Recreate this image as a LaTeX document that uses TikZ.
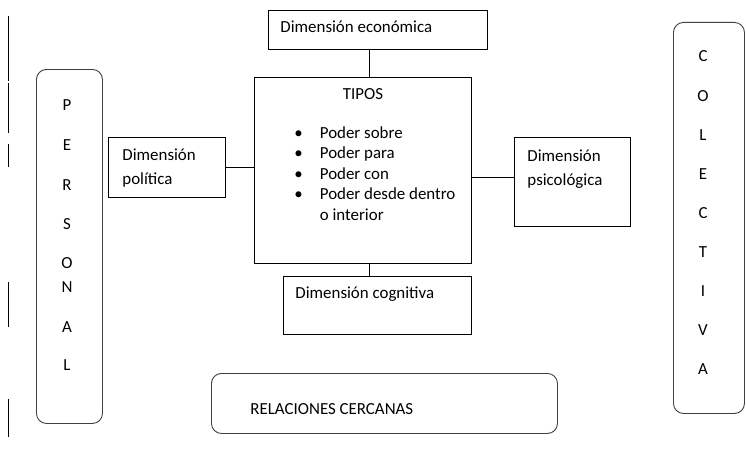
\documentclass[tikz,border=0pt]{standalone}
\usepackage{fontspec}
\setmainfont{Carlito}
\usetikzlibrary{positioning,calc}
\definecolor{fg}{RGB}{0,0,0}
\definecolor{rnd}{RGB}{64,64,64}
\tikzset{
  every picture/.style={fg, line width=0.9pt},
  every node/.style={font=\fontsize{16.9}{20.5}\selectfont, inner sep=0pt},
  % Kästen
  box/.style={draw, anchor=north west},
  rbox/.style={box, draw=rnd, rounded corners=10pt},
  % Beschriftung
  txt/.style={anchor=base west},
  wide/.style={txt, font=\fontsize{16.9}{24}\selectfont},
  letter/.style={anchor=base},
  link/.style={line width=0.8pt},
}

\begin{document}
\begin{tikzpicture}[x=1pt, y=-1pt]
  \useasboundingbox (0,0) rectangle (746,452);
  % Randstriche links
  \foreach \a/\b in {16/81, 83/133, 144/167, 282/327, 399/437}
    \draw[link] (8,\a) -- (8,\b);
  % Kästen
  \node[box, minimum width=219, minimum height=39] (econ) at (268,10) {};
  \node[box, minimum width=217, minimum height=186] (tipos) at (254,77) {};
  \node[box, minimum width=117, minimum height=60] (pol) at (108,137) {};
  \node[box, minimum width=116, minimum height=89] (psico) at (514,137) {};
  \node[box, minimum width=188, minimum height=58] (cogn) at (283,276) {};
  \node[rbox, minimum width=346, minimum height=60] (rel) at (211,373) {};
  \node[rbox, minimum width=66, minimum height=354] (pers) at (36,69) {};
  \node[rbox, minimum width=71, minimum height=391] (colec) at (673,22) {};
  % Texte
  \node[txt] at ([shift={(12,23)}]econ.north west) {Dimensión económica};
  \node[letter] at ([shift={(0,22)}]tipos.north) {TIPOS};
  \node[txt] at ([shift={(40,61)}]tipos.north west)
    {\begin{tabular}[t]{@{}l@{\hspace{17pt}}l@{}}
      \textbullet & Poder sobre\\
      \textbullet & Poder para\\
      \textbullet & Poder con\\
      \textbullet & Poder desde dentro\\
                  & o interior
    \end{tabular}};
  \node[wide] at ([shift={(14,23)}]pol.north west)
    {\begin{tabular}[t]{@{}l@{}}Dimensión\\política\end{tabular}};
  \node[wide] at ([shift={(13,24)}]psico.north west)
    {\begin{tabular}[t]{@{}l@{}}Dimensión\\psicológica\end{tabular}};
  \node[txt] at ([shift={(12,22)}]cogn.north west) {Dimensión cognitiva};
  \node[txt] at ([shift={(39,41)}]rel.north west) {RELACIONES CERCANAS};
  % senkrechte Schrift
  \foreach \c/\y in {P/110, E/150, R/190, S/229, O/268, N/292, A/332, L/370}
    \node[letter] at (67,\y) {\c};
  \foreach \c/\y in {C/62, O/101, L/140, E/179, C/218, T/257, I/296, V/335, A/374}
    \node[letter] at (703,\y) {\c};
  % Verbindungen
  \coordinate (xl) at (369,0);
  \draw[link] (econ.south -| xl) -- (tipos.north -| xl);
  \draw[link] (tipos.south -| xl) -- (cogn.north -| xl);
  \draw[link] (pol.east) -- (pol.east -| tipos.west);
  \draw[link] ([yshift=4.5pt]psico.west) coordinate (pw) -- (pw -| tipos.east);
\end{tikzpicture}
\end{document}
